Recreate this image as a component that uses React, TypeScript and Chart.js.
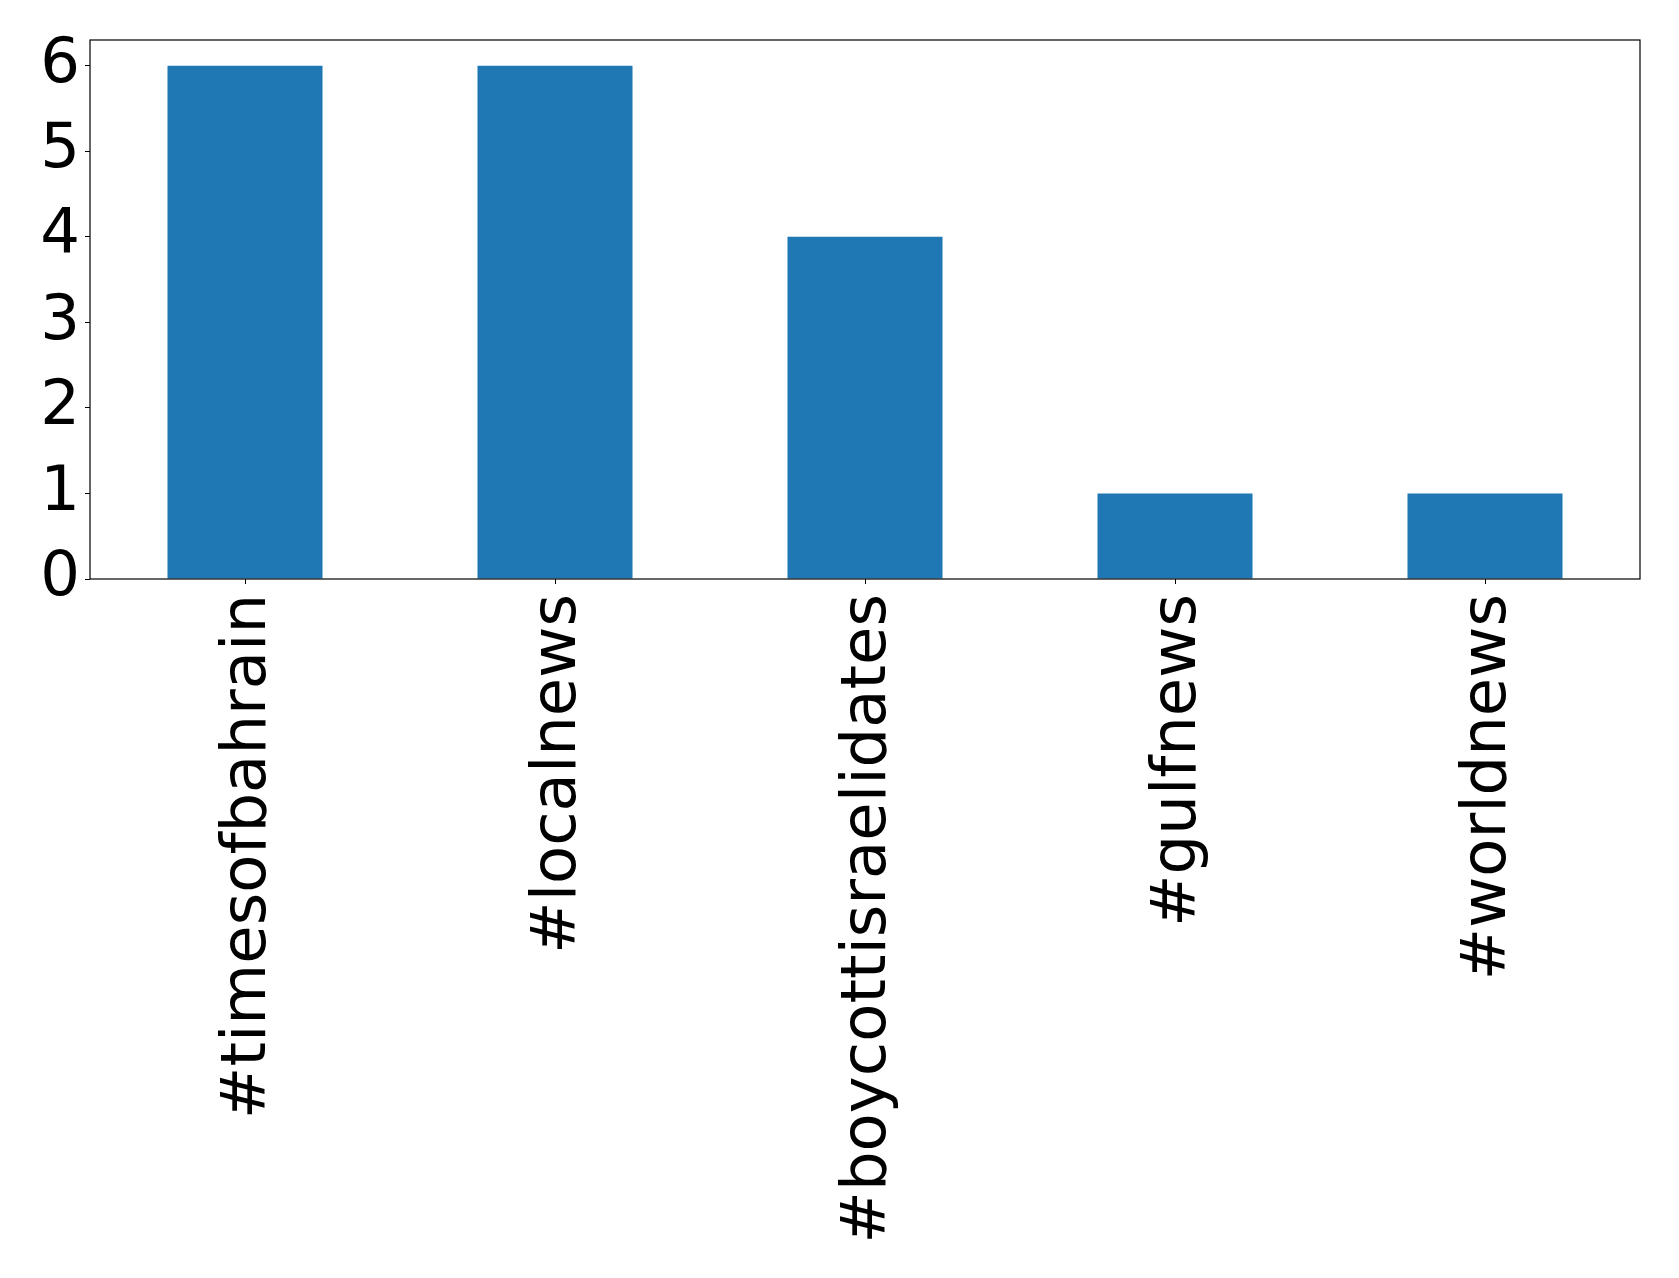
import React, { useEffect, useRef } from "react";
import { Chart, registerables } from "chart.js";

Chart.register(...registerables);

const categories = ["#timesofbahrain", "#localnews", "#boycottisraelidates", "#gulfnews", "#worldnews"];
const counts = [6, 6, 4, 1, 1];
const yTicks = [0, 1, 2, 3, 4, 5, 6];

const W = 1679;
const H = 1278;

const framePlugin = {
  id: "frame",
  afterDraw(chart: any) {
    const { ctx, chartArea } = chart;
    ctx.save();
    ctx.strokeStyle = "#000";
    ctx.lineWidth = 1.2;
    ctx.strokeRect(chartArea.left, chartArea.top, chartArea.right - chartArea.left, chartArea.bottom - chartArea.top);
    ctx.restore();
  },
};

export default function App() {
  const ref = useRef<HTMLCanvasElement | null>(null);
  useEffect(() => {
    if (!ref.current) return;
    const font = { family: "'DejaVu Sans'", size: 62.5 };
    const chart = new Chart(ref.current, {
      type: "bar",
      data: {
        labels: categories,
        datasets: [
          {
            data: counts,
            backgroundColor: "#1f77b4",
            borderWidth: 0,
            categoryPercentage: 1,
            barPercentage: 0.5,
          },
        ],
      },
      options: {
        responsive: false,
        animation: false,
        devicePixelRatio: 1,
        layout: { padding: { top: 40, right: 39, left: 0, bottom: 0 } },
        plugins: { legend: { display: false }, tooltip: { enabled: false } },
        scales: {
          x: {
            grid: { display: true, offset: false, drawOnChartArea: false, drawTicks: true, tickLength: 5, tickColor: "#000", color: "#000" },
            border: { display: false },
            ticks: { color: "#000", font, maxRotation: 90, minRotation: 90, padding: 10, labelOffset: 4, autoSkip: false },
            afterFit: (s: any) => {
              s.height = H - 579;
              s.paddingLeft = 0;
              s.paddingRight = 0;
            },
          },
          y: {
            min: 0,
            max: 6.3,
            grid: { display: true, drawOnChartArea: false, drawTicks: true, tickLength: 5, tickColor: "#000", color: "#000" },
            border: { display: false },
            ticks: { color: "#000", font, padding: 5 },
            afterBuildTicks: (s: any) => {
              s.ticks = yTicks.map((v) => ({ value: v }));
            },
            afterFit: (s: any) => {
              s.width = 90;
              s.paddingTop = 0;
              s.paddingBottom = 0;
            },
          },
        },
      },
      plugins: [framePlugin],
    });
    return () => chart.destroy();
  }, []);
  return (
    <div style={{ position: "fixed", left: 0, top: 0, width: W, height: H, background: "#fff" }}>
      <canvas ref={ref} width={W} height={H} style={{ width: W, height: H, display: "block" }} />
    </div>
  );
}
